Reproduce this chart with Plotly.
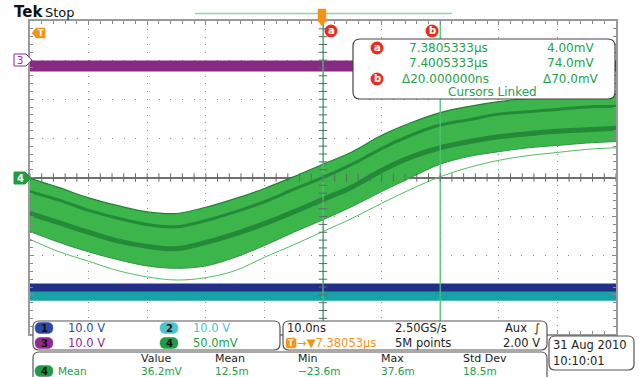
import plotly.graph_objects as go
import numpy as np

W, H = 639, 377

t_ns = [-50, -45, -40, -35, -30, -25, -20, -15, -10, -5, 0, 5, 10, 15, 20, 25, 30, 35, 40, 45, 50]
ch4_upper_mV = [-1, -13, -26, -36, -44, -46, -38, -27, -14, 1, 17, 33, 54, 70, 83, 91, 97, 101, 104, 106, 107]
ch4_core1_mV = [-18, -29, -42, -52, -60, -63, -55, -44, -31, -15, 0, 17, 37, 54, 67, 74, 81, 84, 87, 90, 91]
ch4_core2_mV = [-46, -58, -70, -81, -88, -91, -83, -72, -59, -44, -28, -12, 9, 26, 38, 46, 52, 56, 59, 61, 63]
ch4_lower_mV = [-69, -83, -95, -105, -113, -116, -113, -102, -87, -70, -54, -37, -18, 0, 17, 27, 33, 38, 41, 44, 46]
ch4_outlier_mV = [-79, -95, -107, -119, -127, -131, -128, -119, -102, -86, -69, -52, -33, -15, 1, 13, 22, 28, 32, 36, 38]

ch4_mV_per_div = 50
ch1_level_div = -2.81
ch2_level_div = -3.02
ch3_level_div = 2.85

cursor_a_ns = 0.0033
cursor_b_ns = 20.0033

readout_times = ["7.3805333µs", "7.4005333µs", "Δ20.000000ns"]
readout_volts = ["4.00mV", "74.0mV", "Δ70.0mV"]

meas_headers = ["Value", "Mean", "Min", "Max", "Std Dev"]
meas_values = ["36.2mV", "12.5m", "−23.6m", "37.6m", "18.5m"]

# ---------------- styling ----------------
FONT = "DejaVu Sans"
GREEN = "#3cb64b"
DKGREEN = "#1c7a33"
TXTGREEN = "#26a04e"
ORANGE = "#f29418"
RED = "#e2321f"
C1, C2, C3, C4 = "#2b4aa3", "#4cc3cd", "#8e2b8c", "#1f9b45"

# graticule pixel geometry
GX0, GX1, GY0, GY1 = 30, 616, 21, 334

fig = go.Figure()

span = [t_ns[0], t_ns[-1]]
fig.add_trace(go.Scatter(x=span, y=[ch2_level_div * ch4_mV_per_div] * 2, mode="lines",
                         line=dict(color="#17a3a6", width=10)))
fig.add_trace(go.Scatter(x=span, y=[ch1_level_div * ch4_mV_per_div] * 2, mode="lines",
                         line=dict(color="#222f86", width=8)))
fig.add_trace(go.Scatter(x=span, y=[ch3_level_div * ch4_mV_per_div] * 2, mode="lines",
                         line=dict(color="#862a84", width=11)))

# channel 4 persistence band
fig.add_trace(go.Scatter(x=t_ns, y=ch4_outlier_mV, mode="lines", line=dict(color="#4fbf63", width=1, shape="spline")))
fig.add_trace(go.Scatter(x=t_ns, y=ch4_lower_mV, mode="lines", line=dict(color="#2a9a40", width=1, shape="spline")))
fig.add_trace(go.Scatter(x=t_ns, y=ch4_upper_mV, mode="lines", fill="tonexty", fillcolor=GREEN,
                         line=dict(color="#237d37", width=1.2, shape="spline")))
fig.add_trace(go.Scatter(x=t_ns, y=ch4_core2_mV, mode="lines", opacity=0.75,
                         line=dict(color=DKGREEN, width=5, shape="spline")))
fig.add_trace(go.Scatter(x=t_ns, y=ch4_core1_mV, mode="lines", opacity=0.75,
                         line=dict(color=DKGREEN, width=3, shape="spline")))

# cursors
for cx in (cursor_a_ns, cursor_b_ns):
    fig.add_trace(go.Scatter(x=[cx, cx], y=[-200, 200], mode="lines",
                             line=dict(color="#4cc27a", width=1.3)))

# centre-line graticule ticks
tx = np.arange(-50, 50.01, 2)
ty = np.arange(-200, 200.01, 10)
fig.add_trace(go.Scatter(x=tx, y=np.zeros_like(tx), mode="markers",
                         marker=dict(symbol="line-ns", size=6, line=dict(color="#666", width=1))))
fig.add_trace(go.Scatter(x=np.zeros_like(ty), y=ty, mode="markers",
                         marker=dict(symbol="line-ew", size=6, line=dict(color="#666", width=1))))

# invisible overlay subplot in pixel units for decorations
fig.add_trace(go.Scatter(x=[0], y=[0], xaxis="x2", yaxis="y2", mode="markers",
                         marker=dict(size=1, color="rgba(0,0,0,0)")))

shapes = []
ann = []


def rrect(x0, y0, x1, y1, r):
    return (f"M{x0+r},{y0} L{x1-r},{y0} Q{x1},{y0} {x1},{y0+r} L{x1},{y1-r} Q{x1},{y1} {x1-r},{y1} "
            f"L{x0+r},{y1} Q{x0},{y1} {x0},{y1-r} L{x0},{y0+r} Q{x0},{y0} {x0+r},{y0} Z")


def box(x0, y0, x1, y1, r=6, fill="white", line="#555", lw=1.2):
    shapes.append(dict(type="path", xref="x2", yref="y2", path=rrect(x0, y0, x1, y1, r),
                       fillcolor=fill, line=dict(color=line, width=lw), layer="above"))


def text(x, y, s, color="#222", size=12, anchor="left", bold=False):
    if bold:
        s = f"<b>{s}</b>"
    ann.append(dict(x=x, y=y, xref="x2", yref="y2", text=s, showarrow=False, xanchor=anchor,
                    yanchor="middle", font=dict(family=FONT, size=size, color=color), borderpad=0))


def pill(x0, y, label, color, w=18, h=11, tcolor="#111"):
    box(x0, y - h / 2, x0 + w, y + h / 2, r=h / 2, fill=color, line=color, lw=0.5)
    text(x0 + w / 2, y, label, color=tcolor, size=10, anchor="center", bold=True)


def circ(x, y, label):
    shapes.append(dict(type="circle", xref="x2", yref="y2", x0=x - 6.5, x1=x + 6.5, y0=y - 6.5, y1=y + 6.5,
                       fillcolor=RED, line=dict(color=RED, width=0), layer="above"))
    text(x, y - 0.5, label, color="white", size=10, anchor="center", bold=True)


# header
text(13, 12, "Tek", color="#111", size=15, bold=True)
text(44, 12, "Stop", color="#111", size=13)
shapes.append(dict(type="line", xref="x2", yref="y2", x0=195, x1=452, y0=13.5, y1=13.5,
                   line=dict(color="#8fd4a8", width=1.5), layer="above"))
# trigger position marker (top)
shapes.append(dict(type="path", xref="x2", yref="y2",
                   path="M318,9 L326,9 L326,21 L322,26 L318,21 Z",
                   fillcolor=ORANGE, line=dict(color=ORANGE, width=0.5), layer="above"))
# trigger level marker (left)
shapes.append(dict(type="path", xref="x2", yref="y2",
                   path="M32,33 L36,28 L45,28 L45,38 L36,38 Z",
                   fillcolor=ORANGE, line=dict(color=ORANGE, width=0.5), layer="above"))
text(40.5, 33, "T", color="white", size=8, anchor="center", bold=True)

# channel markers
shapes.append(dict(type="path", xref="x2", yref="y2",
                   path="M14,54 L26,54 L32,60 L26,66 L14,66 Z",
                   fillcolor="white", line=dict(color=C3, width=1), layer="above"))
text(20, 60, "3", color=C3, size=10, anchor="center")
shapes.append(dict(type="path", xref="x2", yref="y2",
                   path="M14,172 L25,172 L31,178 L25,184 L14,184 Z",
                   fillcolor=C4, line=dict(color=C4, width=1), layer="above"))
text(20, 178, "4", color="white", size=10, anchor="center", bold=True)

# cursor labels at top
circ(331, 31, "a")
circ(432, 31, "b")

# cursor readout box
box(353, 39, 615, 99, r=7, line="#444")
circ(377, 48, "a")
circ(377, 79, "b")
for i, (tt, vv) in enumerate(zip(readout_times, readout_volts)):
    y = [48, 63, 79][i]
    text(401 if tt.startswith("Δ") else 408, y, tt, color=TXTGREEN, size=12)
    text(600 if vv.startswith("Δ") else 595, y, vv, color=TXTGREEN, size=12, anchor="right")
text(492, 92, "Cursors Linked", color=TXTGREEN, size=12, anchor="center")

# bottom readouts
box(33, 321, 280, 350)
pill(35, 328, "1", C1)
text(67, 328, "10.0 V", color=C1, size=11.5)
pill(160, 328, "2", C2)
text(192, 328, "10.0 V", color=C2, size=11.5)
pill(35, 343, "3", C3)
text(67, 343, "10.0 V", color=C3, size=11.5)
pill(160, 343, "4", C4)
text(192, 343, "50.0mV", color=C4, size=11.5)

box(283, 321, 547, 350)
text(286, 328, "10.0ns", size=11.5)
text(394, 328, "2.50GS/s", size=11.5)
text(541, 328, "Aux  ∫", size=11.5, anchor="right")
shapes.append(dict(type="path", xref="x2", yref="y2", path=rrect(286, 338, 296, 348, 2),
                   fillcolor=ORANGE, line=dict(color=ORANGE, width=0.5), layer="above"))
text(291, 343, "T", color="white", size=8, anchor="center", bold=True)
text(296, 343, "→▼7.38053µs", color=ORANGE, size=11.5)
text(394, 343, "5M points", size=11.5)
text(541, 343, "2.00 V", size=11.5, anchor="right")

box(549, 336, 634, 370)
text(552, 345, "31 Aug 2010", size=11.5)
text(552, 361, "10:10:01", size=11.5)

box(33, 352, 547, 395)
mx = [140, 214, 297, 380, 462]
for x, hdr, val in zip(mx, meas_headers, meas_values):
    text(x, 358, hdr, size=11)
    text(x, 371, val, color=C4, size=10.5)
pill(35, 371, "4", C4)
text(57, 371, "Mean", color=C4, size=10.5)

fig.update_layout(
    width=W, height=H, margin=dict(l=0, r=0, t=0, b=0),
    paper_bgcolor="white", plot_bgcolor="rgba(0,0,0,0)", showlegend=False,
    shapes=shapes, annotations=ann,
    xaxis=dict(domain=[GX0 / W, GX1 / W], range=[-50, 50], tickvals=list(range(-40, 41, 10)),
               showticklabels=False, showgrid=True, gridcolor="#8a8a8a", gridwidth=1, griddash="1px,6.8px",
               zeroline=True, zerolinecolor="#888", zerolinewidth=1,
               showline=True, mirror="allticks", linecolor="#9a9a9a", linewidth=2,
               ticks="inside", ticklen=4, tickcolor="#888",
               minor=dict(dtick=2, ticks="inside", ticklen=3, tickcolor="#888", showgrid=False),
               fixedrange=True),
    yaxis=dict(domain=[1 - GY1 / H, 1 - GY0 / H], range=[-200, 200], tickvals=list(range(-150, 151, 50)),
               showticklabels=False, showgrid=True, gridcolor="#8a8a8a", gridwidth=1, griddash="1px,10.7px",
               zeroline=True, zerolinecolor="#707070", zerolinewidth=1.5,
               showline=True, mirror="allticks", linecolor="#9a9a9a", linewidth=2,
               ticks="inside", ticklen=4, tickcolor="#888",
               minor=dict(dtick=10, ticks="inside", ticklen=3, tickcolor="#888", showgrid=False),
               fixedrange=True),
    xaxis2=dict(domain=[0, 1], range=[0, W], visible=False, anchor="y2", fixedrange=True),
    yaxis2=dict(domain=[0, 1], range=[H, 0], visible=False, anchor="x2", fixedrange=True),
)

fig.write_html("out.html")
